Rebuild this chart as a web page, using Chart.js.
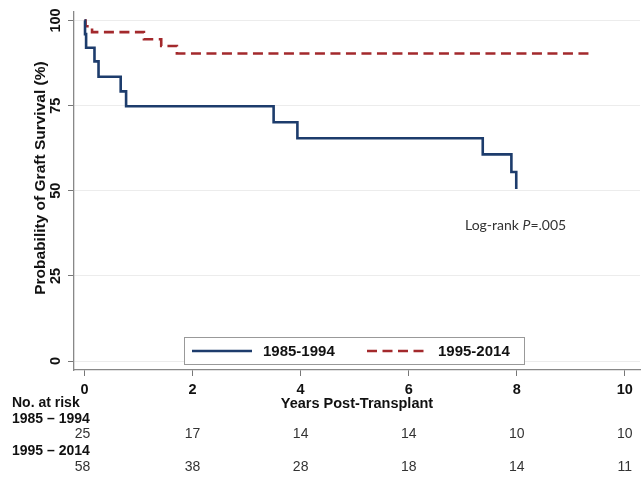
<!DOCTYPE html>
<html>
<head>
<meta charset="utf-8">
<script src="https://cdn.jsdelivr.net/npm/chart.js@4.4.1/dist/chart.umd.min.js"></script>
<style>
  html, body { margin: 0; padding: 0; background: #fff; }
  #wrap { width: 644px; height: 477px; }
</style>
</head>
<body>
<div id="wrap"><canvas id="myChart" width="644" height="477"></canvas></div>
<script>
// tick labels
const yearTicks = [0, 2, 4, 6, 8, 10];
const survTicks = [0, 25, 50, 75, 100];

// Kaplan-Meier steps
const earlyTimes = [0, 0.01, 0.03, 0.185, 0.26, 0.67, 0.77, 3.50, 3.94, 7.37, 7.90, 7.99];
const earlySurv  = [100, 96, 92, 88, 83.5, 79.2, 74.8, 70.1, 65.4, 60.7, 55.5, 50.5];
const lateTimes  = [0, 0.02, 0.14, 1.10, 1.42, 1.71, 9.35];
const lateSurv   = [100, 98.3, 96.6, 94.5, 92.5, 90.3, 90.3];

// numbers at risk, one per year tick
const riskEarly = [25, 17, 14, 14, 10, 10];
const riskLate  = [58, 38, 28, 18, 14, 11];

const FONT = '"Liberation Sans", Arial, sans-serif';
const toPoints = (xs, ys) => xs.map((t, i) => ({ x: t, y: ys[i] }));

const extras = {
  id: 'extras',
  afterDraw(chart) {
    const { ctx } = chart;
    const xs = chart.scales.x;
    const ds = chart.data.datasets;
    ctx.save();

    // log-rank note
    ctx.fillStyle = '#333';
    ctx.textBaseline = 'middle';
    ctx.textAlign = 'left';
    let x = 465;
    const y = 225;
    ctx.font = '14px Lato';
    ctx.fillText('Log-rank ', x, y);
    x += ctx.measureText('Log-rank ').width;
    ctx.font = 'italic 14px Lato';
    ctx.fillText('P', x, y);
    x += ctx.measureText('P').width;
    ctx.font = '14px Lato';
    ctx.fillText('=.005', x, y);

    // legend box
    ctx.fillStyle = '#fff';
    ctx.fillRect(184, 337, 341, 28);
    ctx.strokeStyle = '#999';
    ctx.lineWidth = 1;
    ctx.strokeRect(184.5, 337.5, 340, 27);
    const items = [
      { x0: 192, x1: 252, tx: 263 },
      { x0: 367, x1: 424, tx: 438 }
    ];
    items.forEach((it, i) => {
      ctx.beginPath();
      ctx.strokeStyle = ds[i].borderColor;
      ctx.lineWidth = ds[i].borderWidth;
      ctx.setLineDash(ds[i].borderDash || []);
      ctx.moveTo(it.x0, 351);
      ctx.lineTo(it.x1, 351);
      ctx.stroke();
      ctx.setLineDash([]);
      ctx.fillStyle = '#111';
      ctx.font = 'bold 15px ' + FONT;
      ctx.fillText(ds[i].label, it.tx, 352);
    });

    // number at risk table
    ctx.fillStyle = '#111';
    ctx.font = 'bold 14px ' + FONT;
    ctx.fillText('No. at risk', 12, 403.5);
    ctx.fillText('1985 \u2013 1994', 12, 419);
    ctx.fillText('1995 \u2013 2014', 12, 451.5);
    ctx.fillStyle = '#333';
    ctx.font = '14px ' + FONT;
    ctx.textAlign = 'center';
    yearTicks.forEach((t, i) => {
      const px = xs.getPixelForValue(t) - (i === 0 ? 2 : 0);
      ctx.fillText(String(riskEarly[i]), px, 434);
      ctx.fillText(String(riskLate[i]), px, 467);
    });
    ctx.restore();
  }
};

const ctx = document.getElementById('myChart').getContext('2d');
const myChart = new Chart(ctx, {
  type: 'line',
  data: {
    datasets: [{
      label: '1985-1994',
      data: toPoints(earlyTimes, earlySurv),
      borderColor: '#1d3c6c',
      borderWidth: 2.6,
      stepped: true,
      pointRadius: 0,
      fill: false
    }, {
      label: '1995-2014',
      data: toPoints(lateTimes, lateSurv),
      borderColor: '#a3292c',
      borderWidth: 2.6,
      borderDash: [10, 5.5],
      stepped: true,
      pointRadius: 0,
      fill: false
    }]
  },
  options: {
    responsive: false,
    animation: false,
    devicePixelRatio: 1,
    layout: { padding: { left: 0, right: 4, top: 12, bottom: 0 } },
    plugins: {
      legend: { display: false },
      tooltip: { enabled: false }
    },
    scales: {
      x: {
        type: 'linear',
        min: -0.194,
        max: 10.28,
        afterBuildTicks: (s) => { s.ticks = yearTicks.map(v => ({ value: v })); },
        afterFit: (s) => { s.height = 107; },
        ticks: {
          color: '#111',
          font: { family: FONT, size: 14.5, weight: 'bold' },
          padding: 5,
          maxRotation: 0
        },
        grid: {
          drawOnChartArea: false,
          drawTicks: true,
          tickLength: 6,
          tickColor: '#777'
        },
        border: { color: '#888', width: 1.3 },
        title: {
          display: true,
          text: 'Years Post-Transplant',
          color: '#111',
          font: { family: FONT, size: 14.5, weight: 'bold' },
          padding: { top: 0, bottom: 64 }
        }
      },
      y: {
        min: -2.64,
        max: 102.5,
        afterBuildTicks: (s) => { s.ticks = survTicks.map(v => ({ value: v })); },
        afterFit: (s) => { s.width = 74; },
        ticks: {
          color: '#111',
          font: { family: FONT, size: 14.5, weight: 'bold' },
          padding: 0,
          minRotation: 90,
          maxRotation: 90,
          crossAlign: 'center'
        },
        grid: {
          color: '#ececec',
          lineWidth: 1,
          drawTicks: true,
          tickLength: 6,
          tickColor: '#777'
        },
        border: { color: '#888', width: 1.3 },
        title: {
          display: true,
          text: '      Probability of Graft Survival (%)',
          color: '#111',
          font: { family: FONT, size: 15.5, weight: 'bold' },
          padding: { top: 31, bottom: 0 }
        }
      }
    }
  },
  plugins: [extras]
});
</script>
</body>
</html>
